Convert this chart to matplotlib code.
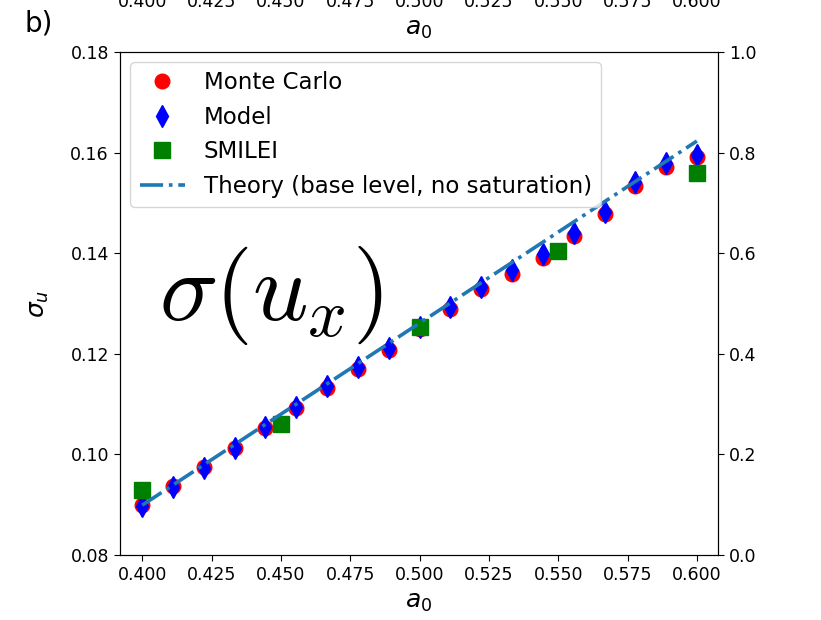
import matplotlib
matplotlib.use("Agg")
import matplotlib.pyplot as plt

# sigma_u against a0
a0 = [0.4000, 0.4111, 0.4222, 0.4333, 0.4444, 0.4556, 0.4667, 0.4778, 0.4889, 0.5000,
      0.5111, 0.5222, 0.5333, 0.5444, 0.5556, 0.5667, 0.5778, 0.5889, 0.6000]
sigma_mc = [0.0899, 0.0937, 0.0975, 0.1013, 0.1052, 0.1092, 0.1132, 0.1170, 0.1208, 0.1249,
            0.1289, 0.1329, 0.1359, 0.1390, 0.1434, 0.1478, 0.1534, 0.1571, 0.1591]
sigma_model = [0.0897, 0.0936, 0.0973, 0.1013, 0.1054, 0.1094, 0.1136, 0.1174, 0.1211, 0.1253,
               0.1293, 0.1332, 0.1367, 0.1398, 0.1440, 0.1481, 0.1541, 0.1580, 0.1595]
a0_smilei = [0.40, 0.45, 0.50, 0.55, 0.60]
sigma_smilei = [0.0929, 0.1060, 0.1253, 0.1404, 0.1559]
a0_theory = [0.40, 0.60]
sigma_theory = [0.0899, 0.1623]

xticks = [0.400, 0.425, 0.450, 0.475, 0.500, 0.525, 0.550, 0.575, 0.600]

plt.rcParams['font.size'] = 12.5
plt.rcParams['xtick.major.size'] = 4.5
plt.rcParams['ytick.major.size'] = 4.5

fig = plt.figure(figsize=(8.21, 6.2), dpi=100)
ax = fig.add_axes([0.1462, 0.1048, 0.7283, 0.8113])

ax.plot(a0, sigma_mc, 'o', color='red', markersize=10.5, label='Monte Carlo')
ax.plot(a0, sigma_model, 'd', color='blue', markersize=11, label='Model')
ax.plot(a0_smilei, sigma_smilei, 's', color='green', markersize=11, label='SMILEI')
ax.plot(a0_theory, sigma_theory, '-.', color='#1f77b4', linewidth=2.6,
        label='Theory (base level, no saturation)')

ax.set_xlim(0.392, 0.6076)
ax.set_ylim(0.08, 0.18)
ax.set_xticks(xticks)
ax.set_xlabel(r'$a_0$', fontsize=18)
ax.set_ylabel(r'$\sigma_u$', fontsize=18, labelpad=14)
ax.legend(loc='upper left', fontsize=16.5, handlelength=2.0, borderaxespad=0.45)

ax.text(0.065, 0.515, r'$\sigma(u_x)$', transform=ax.transAxes, fontsize=70,
        math_fontfamily='cm', va='center')

# right axis, unused scale
ax2 = ax.twinx()
ax2.set_ylim(0, 1)

# bottom of the panel above, mostly cut off
top = fig.add_axes([0.1462, 1.029, 0.7283, 0.5])
top.set_xlim(0.392, 0.6076)
top.set_xticks(xticks)
top.set_yticks([])
for s in top.spines.values():
    s.set_visible(False)
top.set_xlabel(r'$a_0$', fontsize=18)

fig.text(0.03, 0.962, 'b)', fontsize=20, va='center')

fig.savefig('out.png', dpi=100)
